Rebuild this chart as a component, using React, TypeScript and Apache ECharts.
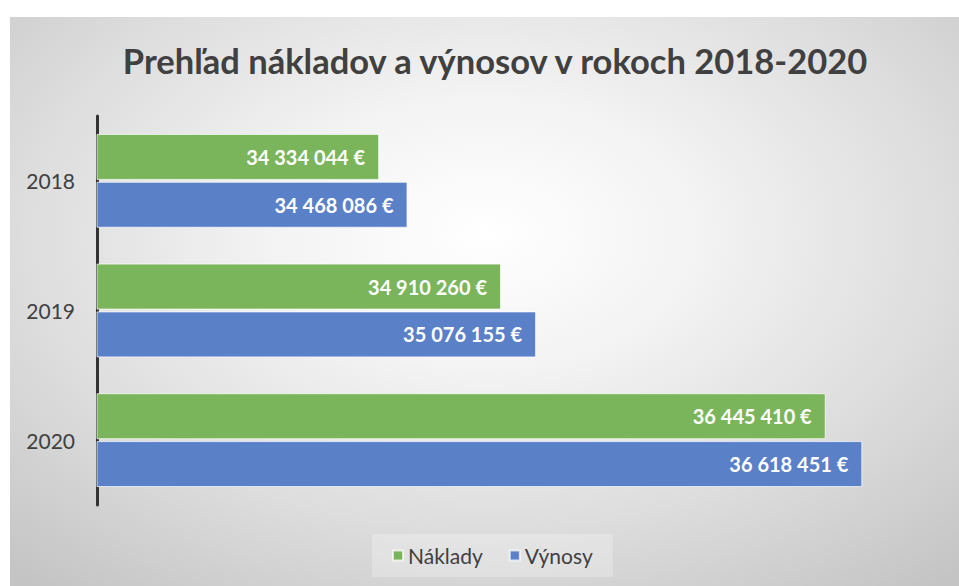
import React, { useEffect, useRef } from "react";
import * as echarts from "echarts";

const years = ["2018", "2019", "2020"];
const naklady = [34334044, 34910260, 36445410];
const vynosy = [34468086, 35076155, 36618451];
const seriesNames = ["Náklady", "Výnosy"];
const titleText = "Prehľad nákladov a výnosov v rokoch 2018-2020";

const fmt = (v: number) =>
  String(Math.round(v)).replace(/\B(?=(\d{3})+(?!\d))/g, " ") + " €";

export default function App() {
  const ref = useRef<HTMLDivElement>(null);
  useEffect(() => {
    if (!ref.current) return;
    const chart = echarts.init(ref.current, null, { renderer: "svg" });
    const font = "Lato, 'Open Sans', sans-serif";
    const labelCfg = {
      show: true,
      position: "insideRight",
      distance: 14,
      color: "#ffffff",
      fontWeight: "bold",
      fontSize: 20,
      fontFamily: font,
      formatter: (p: any) => fmt(p.value),
    };
    chart.setOption({
      animation: false,
      backgroundColor: "transparent",
      title: {
        text: titleText,
        left: 490,
        textAlign: "center",
        top: 38,
        textStyle: {
          fontFamily: font,
          fontSize: 34.5,
          fontWeight: "bold",
          color: "#404040",
        },
      },
      legend: {
        data: seriesNames,
        left: 372,
        bottom: 9,
        itemWidth: 10,
        itemHeight: 10,
        itemGap: 26,
        icon: "rect",
        padding: [11, 20],
        backgroundColor: "rgba(255,255,255,0.25)",
        textStyle: { fontFamily: font, fontSize: 21, color: "#404040" },
      },
      grid: { left: 97, right: 16, top: 116, bottom: 81, containLabel: false },
      xAxis: {
        type: "value",
        min: 33000000,
        max: 37000000,
        show: false,
        splitLine: { show: false },
      },
      yAxis: {
        type: "category",
        data: years,
        inverse: true,
        axisLine: { show: true, lineStyle: { color: "#333333", width: 3 } },
        axisTick: { show: false },
        axisLabel: {
          fontFamily: font,
          fontSize: 21,
          color: "#404040",
          margin: 22,
        },
      },
      series: [
        {
          name: seriesNames[0],
          type: "bar",
          data: naklady,
          barWidth: 46,
          barGap: "4%",
          itemStyle: { color: "#7BB55B", borderColor: "rgba(255,255,255,0.7)", borderWidth: 1 },
          label: labelCfg,
        },
        {
          name: seriesNames[1],
          type: "bar",
          data: vynosy,
          barWidth: 46,
          barGap: "4%",
          itemStyle: { color: "#5A80C8", borderColor: "rgba(255,255,255,0.7)", borderWidth: 1 },
          label: labelCfg,
        },
      ],
    });
    return () => chart.dispose();
  }, []);
  return (
    <div style={{ position: "absolute", left: 0, top: 0, width: 959, height: 586, background: "#ffffff" }}>
      <div
        style={{
          position: "absolute",
          left: 10,
          top: 17,
          right: 0,
          bottom: 0,
          background:
            "radial-gradient(ellipse 75% 80% at 50% 38%, #ffffff 0%, #f3f3f3 30%, #dddddd 65%, #c4c4c4 100%)",
        }}
      />
      <div ref={ref} style={{ position: "absolute", left: 0, top: 0, width: 959, height: 586 }} />
    </div>
  );
}
